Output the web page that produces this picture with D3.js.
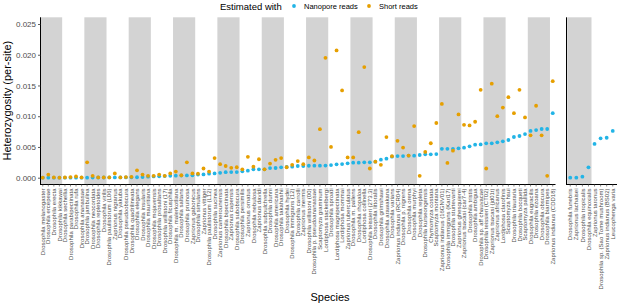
<!DOCTYPE html>
<html>
<head>
<meta charset="utf-8">
<script src="https://cdn.jsdelivr.net/npm/d3@7"></script>
<style>
    html, body { margin: 0; padding: 0; background: #fff; }
    svg { display: block; font-family: "Liberation Sans", Arial, sans-serif; }
</style>
</head>
<body>
<div id="chart"></div>
<script>
// species in the main panel, in plotted order
const speciesMain = [
    "Drosophila melanogaster", "Drosophila ercepeae", "Drosophila erecta", "Drosophila kikkawai",
    "Drosophila sechellia", "Drosophila parabipectinata", "Drosophila rufa", "Drosophila ananassae",
    "Drosophila jambulina", "Drosophila neocordata", "Drosophila repletoides", "Drosophila virilis",
    "Drosophila paulistorum (L06)", "Zaprionus nigranus", "Drosophila yakuba", "Drosophila pseudoobscura",
    "Drosophila quadrilineata", "Drosophila elegans", "Drosophila insularis", "Drosophila mauritiana",
    "Drosophila mojavensis", "Drosophila prosaltans", "Drosophila willistoni (17)", "Drosophila ficusphila",
    "Drosophila m. malerkotliana", "Drosophila saltans", "Drosophila pruinosa", "Zaprionus gabonicus",
    "Drosophila simulans", "Zaprionus vittiger", "Drosophila paulistorum (L12)", "Drosophila sucinea",
    "Zaprionus camerounensis", "Drosophila bipectinata", "Zaprionus capensis", "Drosophila subobscura",
    "Drosophila persimilis", "Zaprionus ornatus", "Drosophila nebulosa", "Zaprionus davidi",
    "Drosophila subpulchrella", "Drosophila dunni", "Drosophila americana", "Drosophila takahashii",
    "Drosophila hydei", "Drosophila immigrans (12)", "Drosophila carrolli", "Zaprionus inermis",
    "Drosophila willistoni (00)", "Drosophila p. pseudoananassae", "Scaptomyza graminum", "Lordiphosa stackelbergi",
    "Drosophila sproati", "Lordiphosa magnipectinata", "Lordiphosa mommai", "Zaprionus tuberculatus",
    "Drosophila m. pallens", "Drosophila rhopaloa", "Lordiphosa collinella", "Drosophila teissieri (273.3)",
    "Drosophila littoralis", "Drosophila grimshawi", "Drosophila arawakana", "Drosophila varians",
    "Zaprionus indianus (RCR04)", "Drosophila p. nigrens", "Drosophila orena", "Drosophila murphyi",
    "Drosophila repleta", "Drosophila kurseongensis", "Chymomyza costata", "Scaptomyza montana",
    "Zaprionus indianus (16GNV01)", "Drosophila immigrans (Kari17)", "Drosophila sturtevanti", "Zaprionus ghesquierei",
    "Zaprionus tsacasi (car7-4)", "Drosophila tristis", "Drosophila ambigua", "Drosophila sp. aff chauvacae",
    "Drosophila teissieri (CT02)", "Zaprionus tsacasi (jd01t)", "Zaprionus africanus", "Lordiphosa clarofinis",
    "Scaptomyza hsui", "Drosophila triauraria", "Drosophila bocqueti", "Scaptomyza pallida",
    "Drosophila eugracilis", "Drosophila ezoana", "Drosophila obscura", "Drosophila biarmipes",
    "Zaprionus indianus (CDD18)"
];

const nanoporeMain = [
    0.0000, 0.0000, 0.0000, 0.0000, 0.0000, 0.0000, 0.0000, 0.0000,
    0.0000, 0.00003, 0.00003, 0.00003, 0.00004, 0.00004, 0.00005, 0.00005,
    0.00006, 0.00007, 0.0001, 0.00016, 0.0002, 0.00022, 0.00027, 0.0003,
    0.00033, 0.00035, 0.00037, 0.0004, 0.0005, 0.00054, 0.00065, 0.0007,
    0.0008, 0.0009, 0.00091, 0.00092, 0.00103, 0.00114, 0.00136, 0.00136,
    0.00137, 0.00157, 0.00158, 0.00168, 0.00174, 0.00179, 0.0019, 0.0019,
    0.00194, 0.00195, 0.00196, 0.00197, 0.00206, 0.00217, 0.00222, 0.00233,
    0.00244, 0.00245, 0.0025, 0.0025, 0.0026, 0.00293, 0.00309, 0.00342,
    0.00352, 0.00352, 0.00358, 0.00358, 0.00369, 0.0038, 0.0038, 0.00385,
    0.0047, 0.0047, 0.0047, 0.00477, 0.00488, 0.0051, 0.00537, 0.00542,
    0.00559, 0.00559, 0.00575, 0.00591, 0.00613, 0.00662, 0.00678, 0.0071,
    0.0076, 0.00775, 0.00792, 0.00792, 0.0105
];

const shortMain = [
    0.0000, 0.0005, 0.00005, 0.0000, 0.00005, 0.0001, 0.0002, 0.00005,
    0.0025, 0.0003, 0.00005, 0.00005, 0.00005, 0.0007, 0.00005, 0.0001,
    0.00015, 0.0012, 0.0005, 0.0003, 0.0003, 0.0005, 0.0003, 0.0007,
    0.001, 0.0004, 0.0025, 0.0007, 0.00065, 0.0015, 0.001, 0.0032,
    0.0022, 0.0019, 0.0016, 0.0017, 0.00136, 0.0034, 0.0018, 0.003,
    0.00136, 0.0023, 0.0029, 0.0032, 0.0017, 0.0021, 0.0027, 0.0022,
    0.0033, 0.0028, 0.0079, 0.0195, 0.005, 0.0207, 0.0142, 0.0033,
    0.0033, 0.0074, 0.018, 0.0015, 0.0026, 0.0021, 0.0066, 0.0035,
    0.006, 0.0049, 0.0036, 0.0084, 0.0003, 0.0042, 0.0056, 0.0089,
    0.012, 0.0024, 0.0044, 0.0103, 0.0086, 0.0085, 0.0091, 0.0143,
    0.0015, 0.0153, 0.01, 0.0114, 0.0131, 0.0105, 0.0143, 0.0098,
    0.0069, 0.0117, 0.0069, 0.0003, 0.0157
];

// second panel: nanopore estimate only
const speciesExtra = [
    "Drosophila funebris", "Zaprionus lachaisei", "Drosophila tropicalis", "Drosophila equinoxialis",
    "Zaprionus taronus", "Drosophila sp. (Sao Tome mushroom)", "Zaprionus indianus (BS02)", "Leucophenga varia"
];
const nanoporeExtra = [0.0000, 0.0000, 0.00016, 0.00168, 0.0055, 0.0064, 0.0065, 0.0076];

const yTicks = [0, 0.005, 0.01, 0.015, 0.02, 0.025];
const methods = ["Nanopore reads", "Short reads"];
const methodColors = ["#22b4e6", "#e69f00"];

// layout
const W = 617, H = 305;
const plotTop = 17.3, plotBottom = 184;

const svg = d3.select("#chart").append("svg")
    .attr("width", W)
    .attr("height", H);

const y = d3.scaleLinear()
    .domain([-0.001025, 0.02609])
    .range([plotBottom, plotTop]);

const color = d3.scaleOrdinal().domain(methods).range(methodColors);

function drawPanel(species, nano, short, x0, x1, outer) {
    const x = d3.scaleBand()
        .domain(species)
        .range([x0, x1])
        .paddingInner(0)
        .paddingOuter(outer);

    const g = svg.append("g");

    // alternating grey bands, groups of four species
    const bands = species.filter((d, i) => i % 8 === 0);
    g.selectAll(".band")
        .data(bands)
        .enter().append("rect")
        .attr("class", "band")
        .attr("x", d => x(d))
        .attr("y", plotTop)
        .attr("width", d => {
            const i = species.indexOf(d);
            const last = species[Math.min(i + 3, species.length - 1)];
            return x(last) + x.bandwidth() - x(d);
        })
        .attr("height", plotBottom - plotTop)
        .attr("fill", "#d3d3d3");

    const pts = [];
    species.forEach((s, i) => {
        pts.push({ s: s, m: methods[0], v: nano[i] });
    });
    if (short) {
        species.forEach((s, i) => {
            pts.push({ s: s, m: methods[1], v: short[i] });
        });
    }

    g.selectAll(".pt")
        .data(pts)
        .enter().append("circle")
        .attr("class", "pt")
        .attr("cx", d => x(d.s) + x.bandwidth() / 2)
        .attr("cy", d => y(d.v))
        .attr("r", 1.9)
        .attr("fill", d => color(d.m));

    // axes
    const xAxis = g.append("g")
        .attr("transform", `translate(0, ${plotBottom})`)
        .call(d3.axisBottom(x).tickSizeOuter(0).tickSize(2.5).tickPadding(2));
    xAxis.select(".domain").attr("stroke", "#000").attr("stroke-width", 1)
        .attr("d", `M${x0},0.5H${x1}`);
    xAxis.selectAll(".tick line").attr("stroke", "#333").attr("stroke-width", 0.6);
    xAxis.selectAll(".tick text")
        .attr("transform", "rotate(-90)")
        .attr("x", -4.5)
        .attr("y", 0)
        .attr("dy", "0.35em")
        .attr("text-anchor", "end")
        .attr("fill", "#4d4d4d")
        .style("font-size", "6px")
        .style("font-family", "'Liberation Sans', Arial, sans-serif");

    g.append("line")
        .attr("x1", x0 + 0.5).attr("x2", x0 + 0.5)
        .attr("y1", plotTop).attr("y2", plotBottom + 1)
        .attr("stroke", "#000")
        .attr("stroke-width", 1);

    return x;
}

drawPanel(speciesMain, nanoporeMain, shortMain, 40, 555.5, 0);
drawPanel(speciesExtra, nanoporeExtra, null, 566, 617, 0.2);

// y axis
const yAxis = svg.append("g")
    .attr("transform", "translate(40.5, 0)")
    .call(d3.axisLeft(y).tickValues(yTicks).tickFormat(d3.format(".3f")).tickSize(2.5).tickPadding(2));
yAxis.select(".domain").remove();
yAxis.selectAll(".tick line").attr("stroke", "#333").attr("stroke-width", 0.8);
yAxis.selectAll(".tick text")
    .attr("fill", "#4d4d4d")
    .style("font-size", "8px")
    .style("font-family", "'Liberation Sans', Arial, sans-serif");

// axis titles
svg.append("text")
    .attr("transform", `translate(11, ${(plotTop + plotBottom) / 2}) rotate(-90)`)
    .attr("text-anchor", "middle")
    .style("font-size", "11px")
    .text("Heterozygosity (per-site)");

svg.append("text")
    .attr("x", 330)
    .attr("y", 301)
    .attr("text-anchor", "middle")
    .style("font-size", "11px")
    .text("Species");

// legend
const legend = svg.append("g").attr("transform", "translate(0, 6)");
legend.append("text")
    .attr("x", 220)
    .attr("y", 3.5)
    .style("font-size", "9.5px")
    .text("Estimated with");

const legendX = [294, 369];
methods.forEach((m, i) => {
    legend.append("circle")
        .attr("cx", legendX[i])
        .attr("cy", 0)
        .attr("r", 1.9)
        .attr("fill", color(m));
    legend.append("text")
        .attr("x", legendX[i] + 10)
        .attr("y", 2.7)
        .style("font-size", "7.5px")
        .text(m);
});
</script>
</body>
</html>
